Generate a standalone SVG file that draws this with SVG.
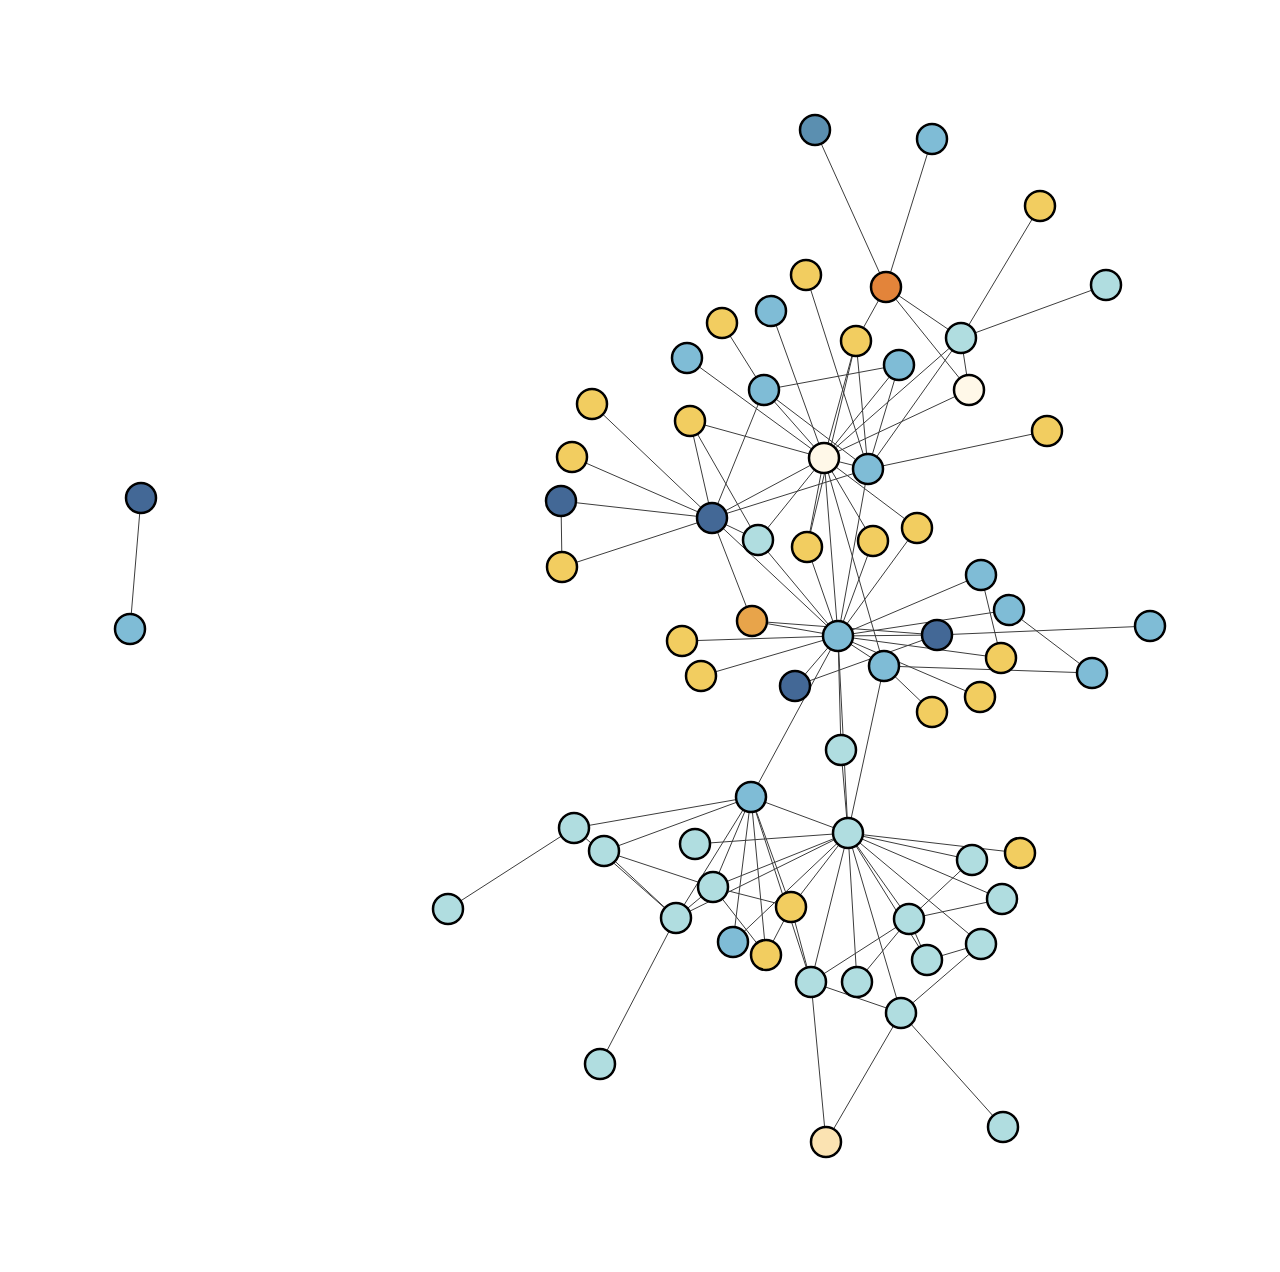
<svg xmlns="http://www.w3.org/2000/svg" width="1280" height="1272" viewBox="0 0 1280 1272">
<style>
.e line{stroke:#3c3c3c;stroke-width:1;}
circle{stroke:#000;stroke-width:2.5;}
.lb{fill:#7fbcd6}.pc{fill:#b0dde0}.y{fill:#f2cd60}.db{fill:#436896}.sb{fill:#5b8fb0}.or{fill:#e3843a}.lo{fill:#e8a44a}.cr{fill:#fff8e8}.pp{fill:#fbe3b2}
</style>
<rect width="1280" height="1272" fill="#fff"/>
<g transform="translate(1,1)">
<g class="e" id="edges">
<line x1="140" y1="497" x2="129" y2="628"/>
<line x1="814" y1="129" x2="885" y2="286"/>
<line x1="931" y1="138" x2="885" y2="286"/>
<line x1="1039" y1="205" x2="960" y2="337"/>
<line x1="1105" y1="284" x2="960" y2="337"/>
<line x1="885" y1="286" x2="960" y2="337"/>
<line x1="885" y1="286" x2="968" y2="389"/>
<line x1="885" y1="286" x2="855" y2="340"/>
<line x1="960" y1="337" x2="968" y2="389"/>
<line x1="960" y1="337" x2="823" y2="457"/>
<line x1="960" y1="337" x2="867" y2="468"/>
<line x1="968" y1="389" x2="823" y2="457"/>
<line x1="898" y1="364" x2="823" y2="457"/>
<line x1="898" y1="364" x2="867" y2="468"/>
<line x1="763" y1="389" x2="898" y2="364"/>
<line x1="805" y1="274" x2="867" y2="468"/>
<line x1="1046" y1="430" x2="867" y2="468"/>
<line x1="855" y1="340" x2="823" y2="457"/>
<line x1="855" y1="340" x2="806" y2="546"/>
<line x1="855" y1="340" x2="867" y2="468"/>
<line x1="823" y1="457" x2="867" y2="468"/>
<line x1="823" y1="457" x2="916" y2="527"/>
<line x1="770" y1="310" x2="823" y2="457"/>
<line x1="721" y1="322" x2="763" y2="389"/>
<line x1="686" y1="357" x2="823" y2="457"/>
<line x1="763" y1="389" x2="823" y2="457"/>
<line x1="763" y1="389" x2="867" y2="468"/>
<line x1="763" y1="389" x2="711" y2="517"/>
<line x1="689" y1="420" x2="823" y2="457"/>
<line x1="689" y1="420" x2="711" y2="517"/>
<line x1="689" y1="420" x2="757" y2="539"/>
<line x1="591" y1="403" x2="711" y2="517"/>
<line x1="571" y1="456" x2="711" y2="517"/>
<line x1="560" y1="500" x2="711" y2="517"/>
<line x1="560" y1="500" x2="561" y2="566"/>
<line x1="561" y1="566" x2="711" y2="517"/>
<line x1="711" y1="517" x2="823" y2="457"/>
<line x1="711" y1="517" x2="867" y2="468"/>
<line x1="711" y1="517" x2="757" y2="539"/>
<line x1="711" y1="517" x2="751" y2="620"/>
<line x1="711" y1="517" x2="837" y2="635"/>
<line x1="757" y1="539" x2="823" y2="457"/>
<line x1="757" y1="539" x2="837" y2="635"/>
<line x1="823" y1="457" x2="806" y2="546"/>
<line x1="823" y1="457" x2="837" y2="635"/>
<line x1="823" y1="457" x2="883" y2="665"/>
<line x1="823" y1="457" x2="872" y2="540"/>
<line x1="806" y1="546" x2="837" y2="635"/>
<line x1="867" y1="468" x2="837" y2="635"/>
<line x1="872" y1="540" x2="837" y2="635"/>
<line x1="916" y1="527" x2="837" y2="635"/>
<line x1="751" y1="620" x2="837" y2="635"/>
<line x1="751" y1="620" x2="936" y2="634"/>
<line x1="681" y1="640" x2="837" y2="635"/>
<line x1="700" y1="675" x2="837" y2="635"/>
<line x1="794" y1="685" x2="837" y2="635"/>
<line x1="794" y1="685" x2="936" y2="634"/>
<line x1="750" y1="796" x2="837" y2="635"/>
<line x1="837" y1="635" x2="840" y2="749"/>
<line x1="837" y1="635" x2="847" y2="832"/>
<line x1="840" y1="749" x2="847" y2="832"/>
<line x1="837" y1="635" x2="980" y2="574"/>
<line x1="837" y1="635" x2="1008" y2="609"/>
<line x1="837" y1="635" x2="936" y2="634"/>
<line x1="837" y1="635" x2="1000" y2="657"/>
<line x1="837" y1="635" x2="883" y2="665"/>
<line x1="837" y1="635" x2="979" y2="696"/>
<line x1="936" y1="634" x2="1149" y2="625"/>
<line x1="980" y1="574" x2="1000" y2="657"/>
<line x1="1008" y1="609" x2="1091" y2="672"/>
<line x1="883" y1="665" x2="1091" y2="672"/>
<line x1="883" y1="665" x2="931" y2="711"/>
<line x1="883" y1="665" x2="847" y2="832"/>
<line x1="750" y1="796" x2="573" y2="827"/>
<line x1="750" y1="796" x2="603" y2="850"/>
<line x1="750" y1="796" x2="847" y2="832"/>
<line x1="750" y1="796" x2="675" y2="917"/>
<line x1="750" y1="796" x2="712" y2="886"/>
<line x1="750" y1="796" x2="732" y2="941"/>
<line x1="750" y1="796" x2="765" y2="954"/>
<line x1="750" y1="796" x2="790" y2="906"/>
<line x1="750" y1="796" x2="810" y2="981"/>
<line x1="790" y1="906" x2="810" y2="981"/>
<line x1="847" y1="832" x2="694" y2="843"/>
<line x1="847" y1="832" x2="712" y2="886"/>
<line x1="847" y1="832" x2="675" y2="917"/>
<line x1="847" y1="832" x2="790" y2="906"/>
<line x1="847" y1="832" x2="732" y2="941"/>
<line x1="847" y1="832" x2="810" y2="981"/>
<line x1="847" y1="832" x2="856" y2="981"/>
<line x1="847" y1="832" x2="900" y2="1012"/>
<line x1="847" y1="832" x2="908" y2="918"/>
<line x1="847" y1="832" x2="926" y2="959"/>
<line x1="847" y1="832" x2="980" y2="943"/>
<line x1="847" y1="832" x2="1001" y2="898"/>
<line x1="847" y1="832" x2="971" y2="859"/>
<line x1="847" y1="832" x2="1019" y2="852"/>
<line x1="603" y1="850" x2="712" y2="886"/>
<line x1="712" y1="886" x2="790" y2="906"/>
<line x1="712" y1="886" x2="765" y2="954"/>
<line x1="712" y1="886" x2="675" y2="917"/>
<line x1="765" y1="954" x2="790" y2="906"/>
<line x1="603" y1="850" x2="675" y2="917"/>
<line x1="573" y1="827" x2="675" y2="917"/>
<line x1="573" y1="827" x2="447" y2="908"/>
<line x1="675" y1="917" x2="599" y2="1063"/>
<line x1="810" y1="981" x2="825" y2="1141"/>
<line x1="810" y1="981" x2="900" y2="1012"/>
<line x1="810" y1="981" x2="908" y2="918"/>
<line x1="856" y1="981" x2="908" y2="918"/>
<line x1="908" y1="918" x2="971" y2="859"/>
<line x1="908" y1="918" x2="1001" y2="898"/>
<line x1="908" y1="918" x2="926" y2="959"/>
<line x1="926" y1="959" x2="980" y2="943"/>
<line x1="900" y1="1012" x2="980" y2="943"/>
<line x1="900" y1="1012" x2="1002" y2="1126"/>
<line x1="900" y1="1012" x2="825" y2="1141"/>
</g>
<g id="n1"><circle class="sb" cx="814" cy="129" r="15"/></g>
<g id="n2"><circle class="lb" cx="931" cy="138" r="15"/></g>
<g id="n3"><circle class="y" cx="1039" cy="205" r="15"/></g>
<g id="n4"><circle class="pc" cx="1105" cy="284" r="15"/></g>
<g id="n5"><circle class="y" cx="805" cy="274" r="15"/></g>
<g id="n6"><circle class="or" cx="885" cy="286" r="15"/></g>
<g id="n7"><circle class="lb" cx="770" cy="310" r="15"/></g>
<g id="n8"><circle class="y" cx="721" cy="322" r="15"/></g>
<g id="n9"><circle class="y" cx="855" cy="340" r="15"/></g>
<g id="n10"><circle class="pc" cx="960" cy="337" r="15"/></g>
<g id="n11"><circle class="lb" cx="686" cy="357" r="15"/></g>
<g id="n12"><circle class="lb" cx="898" cy="364" r="15"/></g>
<g id="n13"><circle class="lb" cx="763" cy="389" r="15"/></g>
<g id="n14"><circle class="cr" cx="968" cy="389" r="15"/></g>
<g id="n15"><circle class="y" cx="591" cy="403" r="15"/></g>
<g id="n16"><circle class="y" cx="689" cy="420" r="15"/></g>
<g id="n17"><circle class="y" cx="1046" cy="430" r="15"/></g>
<g id="n18"><circle class="y" cx="571" cy="456" r="15"/></g>
<g id="n19"><circle class="cr" cx="823" cy="457" r="15"/></g>
<g id="n20"><circle class="lb" cx="867" cy="468" r="15"/></g>
<g id="n21"><circle class="db" cx="560" cy="500" r="15"/></g>
<g id="n22"><circle class="db" cx="711" cy="517" r="15"/></g>
<g id="n23"><circle class="y" cx="916" cy="527" r="15"/></g>
<g id="n24"><circle class="pc" cx="757" cy="539" r="15"/></g>
<g id="n25"><circle class="y" cx="806" cy="546" r="15"/></g>
<g id="n26"><circle class="y" cx="872" cy="540" r="15"/></g>
<g id="n27"><circle class="y" cx="561" cy="566" r="15"/></g>
<g id="n28"><circle class="lb" cx="980" cy="574" r="15"/></g>
<g id="n29"><circle class="lb" cx="1008" cy="609" r="15"/></g>
<g id="n30"><circle class="lo" cx="751" cy="620" r="15"/></g>
<g id="n31"><circle class="lb" cx="1149" cy="625" r="15"/></g>
<g id="n32"><circle class="y" cx="681" cy="640" r="15"/></g>
<g id="n33"><circle class="lb" cx="837" cy="635" r="15"/></g>
<g id="n34"><circle class="db" cx="936" cy="634" r="15"/></g>
<g id="n35"><circle class="y" cx="1000" cy="657" r="15"/></g>
<g id="n36"><circle class="y" cx="700" cy="675" r="15"/></g>
<g id="n37"><circle class="lb" cx="883" cy="665" r="15"/></g>
<g id="n38"><circle class="lb" cx="1091" cy="672" r="15"/></g>
<g id="n39"><circle class="db" cx="794" cy="685" r="15"/></g>
<g id="n40"><circle class="y" cx="979" cy="696" r="15"/></g>
<g id="n41"><circle class="y" cx="931" cy="711" r="15"/></g>
<g id="n42"><circle class="pc" cx="840" cy="749" r="15"/></g>
<g id="n43"><circle class="lb" cx="750" cy="796" r="15"/></g>
<g id="n44"><circle class="pc" cx="573" cy="827" r="15"/></g>
<g id="n45"><circle class="pc" cx="847" cy="832" r="15"/></g>
<g id="n46"><circle class="pc" cx="694" cy="843" r="15"/></g>
<g id="n47"><circle class="pc" cx="603" cy="850" r="15"/></g>
<g id="n48"><circle class="y" cx="1019" cy="852" r="15"/></g>
<g id="n49"><circle class="pc" cx="971" cy="859" r="15"/></g>
<g id="n50"><circle class="pc" cx="712" cy="886" r="15"/></g>
<g id="n51"><circle class="pc" cx="447" cy="908" r="15"/></g>
<g id="n52"><circle class="y" cx="790" cy="906" r="15"/></g>
<g id="n53"><circle class="pc" cx="1001" cy="898" r="15"/></g>
<g id="n54"><circle class="pc" cx="675" cy="917" r="15"/></g>
<g id="n55"><circle class="pc" cx="908" cy="918" r="15"/></g>
<g id="n56"><circle class="lb" cx="732" cy="941" r="15"/></g>
<g id="n57"><circle class="pc" cx="980" cy="943" r="15"/></g>
<g id="n58"><circle class="y" cx="765" cy="954" r="15"/></g>
<g id="n59"><circle class="pc" cx="926" cy="959" r="15"/></g>
<g id="n60"><circle class="pc" cx="810" cy="981" r="15"/></g>
<g id="n61"><circle class="pc" cx="856" cy="981" r="15"/></g>
<g id="n62"><circle class="pc" cx="900" cy="1012" r="15"/></g>
<g id="n63"><circle class="pc" cx="599" cy="1063" r="15"/></g>
<g id="n64"><circle class="pc" cx="1002" cy="1126" r="15"/></g>
<g id="n65"><circle class="pp" cx="825" cy="1141" r="15"/></g>
<g id="n66"><circle class="db" cx="140" cy="497" r="15"/></g>
<g id="n67"><circle class="lb" cx="129" cy="628" r="15"/></g>
</g>
</svg>
